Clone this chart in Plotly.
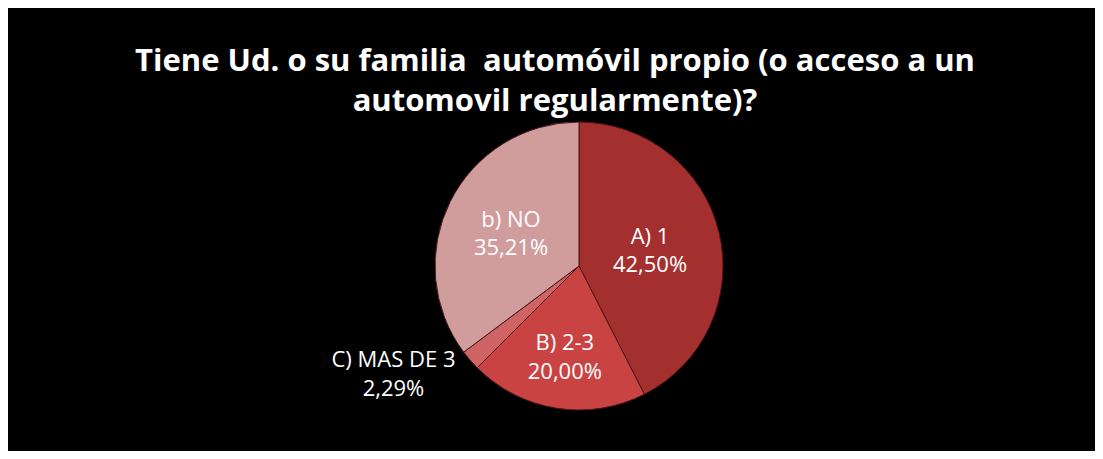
import plotly.graph_objects as go

labels = ["A) 1", "B) 2-3", "C) MAS DE 3", "b) NO"]
values = [42.50, 20.00, 2.29, 35.21]
value_text = ["42,50%", "20,00%", "2,29%", "35,21%"]
colors = ["#A32F2F", "#CA4343", "#D06363", "#D19C9C"]
positions = ["inside", "inside", "outside", "inside"]

# page body adds 8px white margin; figure sized to fit inside the window
W, H = 1087, 443
cx, cy, r = 571, 258, 144

fig = go.Figure(go.Pie(
    labels=labels,
    values=values,
    text=value_text,
    texttemplate="%{label}<br>%{text}",
    textposition=positions,
    textfont=dict(family="Open Sans", size=22, color="white"),
    insidetextorientation="horizontal",
    marker=dict(colors=colors, line=dict(color="#4a1515", width=1)),
    sort=False,
    direction="clockwise",
    rotation=0,
    showlegend=False,
    hoverinfo="label+text",
    domain=dict(x=[(cx - r) / W, (cx + r) / W], y=[(H - cy - r) / H, (H - cy + r) / H]),
))

fig.update_layout(
    width=W, height=H,
    margin=dict(l=0, r=0, t=0, b=0),
    paper_bgcolor="black",
    title=dict(
        text="<b>Tiene Ud. o su familia  automóvil propio (o acceso a un<br>automovil regularmente)?</b>",
        x=547 / W, xanchor="center", y=1 - 63 / H, yanchor="middle", yref="container",
        font=dict(family="Open Sans", size=31, color="white"),
    ),
)

fig.write_html("out.html")
